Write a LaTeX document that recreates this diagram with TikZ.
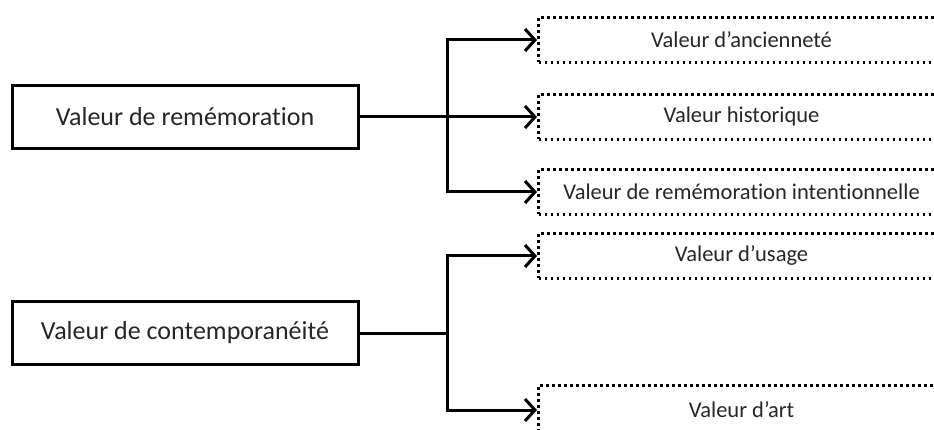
\documentclass[tikz,border=0pt]{standalone}
\usepackage{fontspec}
\setmainfont{Carlito}[Ligatures=NoCommon]
\usetikzlibrary{arrows.meta}
\tikzset{
    valeur/.style={draw, line width=3pt, minimum width=346pt, minimum height=63pt,
        inner sep=0pt, font=\fontsize{26}{30}\selectfont, text=black!85},
    sousval/.style={draw, dash pattern=on 2.8pt off 3.2pt, line width=3pt,
        anchor=west, minimum width=406pt, minimum height=45pt,
        inner sep=0pt, font=\fontsize{22.5}{26}\selectfont, text=black!85},
    fl/.style={line width=3pt, -{Straight Barb[length=10pt,width=22pt,line width=3pt]}}
}
\begin{document}
\begin{tikzpicture}[x=1pt,y=-1pt]
\clip (0,0) rectangle (934,430);
\node(rem) [valeur] at (185,117) {Valeur de remémoration};
\node(con) [valeur] at (185,333) {Valeur de contemporanéité};
\node(anc) [sousval] at (537,40)  {Valeur d’ancienneté};
\node(his) [sousval] at (537,117) {Valeur historique};
\node(int) [sousval] at (537,192) {Valeur de remémoration intentionnelle};
\node(usa) [sousval] at (537,256) {Valeur d’usage};
\node(art) [sousval,minimum height=50pt] at (537,410) {Valeur d’art};
\coordinate(j1) at (447,117);
\coordinate(j2) at (447,333);
\draw[fl] (rem.east) -- (his.west);
\draw[fl] (j1) |- (anc.west);
\draw[fl] (j1) |- (int.west);
\draw[line width=3pt] (con.east) -- (j2);
\draw[fl] (j2) |- (usa.west);
\draw[fl] (j2) |- (art.west);
\end{tikzpicture}
\end{document}
